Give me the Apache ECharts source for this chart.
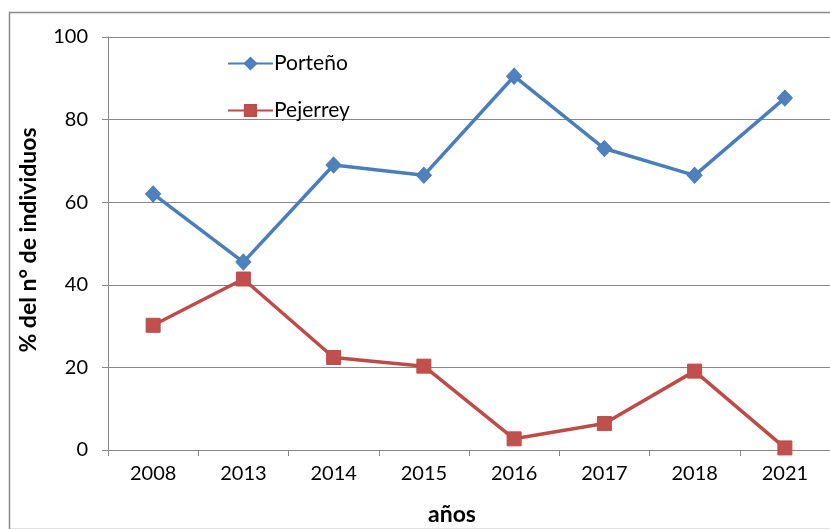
<!DOCTYPE html>
<html>
<head>
<meta charset="utf-8">
<script src="https://cdn.jsdelivr.net/npm/echarts@6/dist/echarts.min.js"></script>
<style>
html,body{margin:0;padding:0;background:#fff;}
#chart{width:830px;height:529px;}
</style>
</head>
<body>
<div id="chart"></div>
<script>
const years = ['2008','2013','2014','2015','2016','2017','2018','2021'];
const porteno = [62, 45.5, 69, 66.5, 90.5, 73, 66.5, 85.2];
const pejerrey = [30.2, 41.4, 22.4, 20.3, 2.7, 6.4, 19.1, 0.5];
const yTicks = [0, 20, 40, 60, 80, 100];

const FONT = 'Lato, "Open Sans", sans-serif';
const chart = echarts.init(document.getElementById('chart'));
chart.setOption({
  animation: false,
  backgroundColor: '#fff',
  textStyle: { fontFamily: FONT },
  grid: { left: 108, top: 37, bottom: 79, right: -10, containLabel: false },
  legend: {
    orient: 'vertical',
    left: 222, top: 48,
    itemWidth: 45, itemHeight: 14, itemGap: 26,
    textStyle: { fontSize: 21, color: '#000', fontFamily: FONT, padding: [0,0,0,-4] },
    data: [
      { name: 'Porteño' },
      { name: 'Pejerrey' }
    ]
  },
  xAxis: {
    type: 'category',
    data: years,
    boundaryGap: true,
    axisLine: { lineStyle: { color: '#868686', width: 1 } },
    axisTick: { show: true, length: 6, inside: false, alignWithLabel: false, lineStyle: { color: '#868686' } },
    axisLabel: { fontSize: 20, color: '#000', margin: 14, fontFamily: FONT },
    splitLine: { show: false }
  },
  yAxis: {
    type: 'value',
    min: yTicks[0], max: yTicks[yTicks.length-1], interval: 20,
    axisLine: { show: true, lineStyle: { color: '#868686', width: 1 } },
    axisTick: { show: true, length: 6, lineStyle: { color: '#868686' } },
    axisLabel: { fontSize: 20, color: '#000', margin: 20, fontFamily: FONT },
    splitLine: { show: true, lineStyle: { color: '#868686', width: 1 } }
  },
  series: [
    {
      name: 'Porteño', type: 'line', data: porteno,
      symbol: 'diamond', symbolSize: [15, 16],
      lineStyle: { color: '#4A7EBB', width: 3.5 },
      itemStyle: { color: '#4F81BD', borderColor: '#4A7EBB', borderWidth: 1 },
      z: 3
    },
    {
      name: 'Pejerrey', type: 'line', data: pejerrey,
      symbol: 'rect', symbolSize: 14,
      lineStyle: { color: '#BE4B48', width: 3.5 },
      itemStyle: { color: '#C0504D', borderColor: '#BE4B48', borderWidth: 1 },
      z: 2
    }
  ],
  graphic: [
    {
      type: 'rect', left: 7, top: 10, silent: true, z: -1,
      shape: { width: 840, height: 517 },
      style: { fill: 'none', stroke: '#8a8a8a', lineWidth: 1.5 }
    },
    {
      type: 'text', x: 29, y: 240, rotation: Math.PI/2,
      style: { text: '% del n° de individuos', font: 'bold 23px ' + FONT, fill: '#000', textAlign: 'center', textVerticalAlign: 'middle' }
    },
    {
      type: 'text', x: 452, y: 515,
      style: { text: 'años', font: 'bold 23px ' + FONT, fill: '#000', textAlign: 'center', textVerticalAlign: 'middle' }
    }
  ]
});
</script>
</body>
</html>
